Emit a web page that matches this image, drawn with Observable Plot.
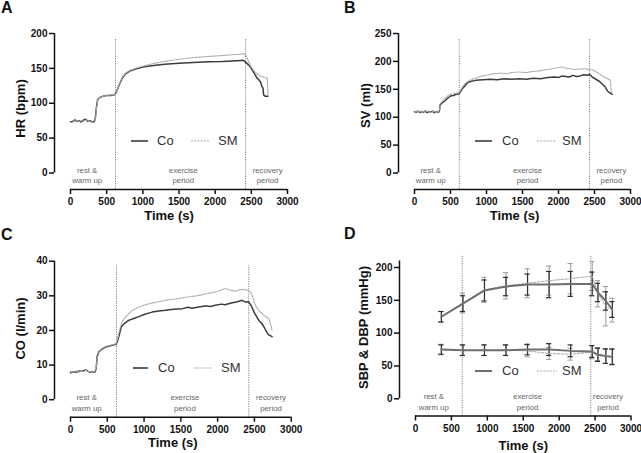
<!DOCTYPE html>
<html><head><meta charset="utf-8">
<script src="https://cdn.jsdelivr.net/npm/d3@7"></script>
<script src="https://cdn.jsdelivr.net/npm/@observablehq/plot@0.6"></script>
<style>
html,body{margin:0;padding:0;background:#fff;}
#root{position:relative;width:641px;height:453px;overflow:hidden;font-family:'Liberation Sans',Arial,Helvetica,sans-serif;}
.panel{position:absolute;}
.letter{position:absolute;font-weight:bold;font-size:16px;line-height:16px;color:#111;}
.lg{position:absolute;font-size:13px;line-height:16px;color:#333;white-space:nowrap;}
.sw{position:absolute;}
[aria-label$="axis tick"] path,[aria-label$="axis tick"] line{stroke-width:1.5px;stroke:#111;}
</style></head><body><div id="root"></div>
<script>
// ---------- data ----------
const xTicks = [0, 500, 1000, 1500, 2000, 2500, 3000];
const regionLabels = ["rest &\nwarm up", "exercise\nperiod", "recovery\nperiod"];
const seriesNames = ["Co", "SM"];

// Panel A: heart rate (bpm)
const hrCo = [[0,73],[30,74],[60,76],[90,74],[120,75],[150,73],[180,76],[210,77],[240,74],[270,75],[300,73],[330,74],[345,80],[360,96],[375,105],[400,108],[450,110],[500,111],[560,111],[610,112],[625,114],[650,120],[680,128],[720,137],[760,142],[820,146],[900,149],[1000,152],[1150,154],[1300,156],[1500,157.5],[1700,158.5],[1900,159.5],[2100,160],[2300,161],[2390,161.5],[2420,159],[2460,155],[2500,150],[2540,143],[2580,136],[2610,133],[2630,130],[2645,124],[2660,122],[2670,112],[2690,110],[2730,110]];
const hrSm = [[0,72],[30,73],[60,75],[90,75],[120,74],[150,75],[180,74],[210,76],[240,75],[270,74],[300,73],[330,72],[345,78],[360,94],[375,104],[400,108],[450,110],[500,111],[560,112],[610,112],[625,113],[650,120],[680,129],[720,138],[760,143],[820,147],[900,150],[1000,153],[1150,157],[1300,160],[1500,163],[1700,165.5],[1900,167],[2100,168.5],[2300,170],[2400,171],[2430,168],[2460,160],[2500,152],[2540,146],[2580,142],[2630,139],[2680,137],[2720,136],[2730,112]];

// Panel B: stroke volume (ml)
const svCo = [[0,110],[25,109],[50,111],[75,108],[100,110],[125,109],[150,111],[175,108],[200,110],[225,109],[250,111],[275,108],[300,110],[330,109],[345,110],[355,122],[380,125],[420,129],[460,134],[500,138],[540,139],[580,141],[620,142],[640,146],[670,152],[700,156],[740,162],[780,164],[850,166],[950,167],[1050,168],[1150,167],[1250,169],[1350,168],[1450,169],[1550,168],[1650,170],[1750,169],[1850,171],[1950,172],[2000,171],[2050,174],[2100,173],[2150,172],[2200,175],[2250,173],[2300,174],[2350,176],[2400,175],[2430,177],[2470,172],[2520,168],[2570,164],[2610,159],[2650,154],[2680,147],[2720,143],[2745,141]];
const svSm = [[0,109],[25,111],[50,110],[75,109],[100,111],[125,110],[150,109],[175,111],[200,110],[225,108],[250,110],[275,111],[300,109],[330,110],[345,111],[355,123],[380,128],[420,133],[460,138],[500,141],[540,142],[580,143],[620,144],[640,148],[670,155],[700,160],[740,164],[800,168],[870,171],[950,174],[1030,176],[1100,178],[1200,179],[1280,178],[1350,180],[1450,181],[1550,180],[1650,182],[1730,183],[1800,185],[1880,186],[1950,188],[2000,189],[2050,190],[2100,188],[2200,186],[2300,186],[2370,187],[2420,185],[2470,185],[2530,181],[2600,175],[2650,171],[2720,166],[2730,150],[2745,142]];

// Panel C: cardiac output (l/min)
const coCo = [[0,7.8],[30,8.0],[60,8.1],[90,8.0],[120,8.3],[150,8.2],[180,8.4],[210,8.6],[240,8.2],[270,7.9],[300,8.0],[330,7.9],[350,9],[362,12.5],[385,13.8],[410,14.3],[450,14.9],[480,15.2],[530,15.5],[580,15.8],[620,16],[640,17],[660,18.5],[690,21],[730,22],[790,22.9],[850,23.4],[930,24],[1000,24.6],[1110,25.3],[1200,25.6],[1290,25.8],[1400,26.1],[1520,26.3],[1600,26.7],[1650,26.4],[1745,26.8],[1850,27.1],[1900,26.9],[1970,27.3],[2050,27.6],[2100,27.4],[2200,28],[2270,28.3],[2330,28.7],[2380,28.2],[2420,28.3],[2460,27],[2495,25.3],[2530,24],[2560,22.9],[2600,22],[2630,21],[2660,19.8],[2690,18.8],[2740,18.2]];
const coSm = [[0,8.1],[30,7.9],[60,8.2],[90,8.3],[120,8.0],[150,8.3],[180,8.1],[210,8.5],[240,8.1],[270,8.2],[300,7.8],[330,8.1],[350,9.2],[362,12],[385,13.5],[410,14.5],[450,15.1],[480,15.4],[530,15.6],[580,15.9],[620,16.2],[640,17.5],[660,19.5],[700,22.5],[760,24.2],[840,25.8],[930,26.8],[1065,27.7],[1150,28.1],[1290,28.7],[1400,29],[1518,29.4],[1600,29.7],[1745,30.1],[1850,30.6],[1971,31.1],[2050,31.7],[2107,32.1],[2180,31.6],[2243,31.3],[2300,31.8],[2379,31.8],[2420,31.4],[2447,31.1],[2480,29.5],[2515,27.2],[2560,25.8],[2605,24.8],[2650,24.1],[2696,23.4],[2730,21],[2740,20]];

// Panel D: blood pressure (mmHg), mean and SD at measurement times
const bpT = [360, 660, 960, 1260, 1560, 1860, 2160, 2460, 2540, 2650, 2740];
const sbpCo = [125, 145, 165, 171, 174, 174, 175, 175, 162, 149, 136];
const sbpCoSd = [8, 12, 16, 14, 16, 20, 19, 18, 14, 14, 12];
const sbpSm = [125, 146, 166, 172, 176, 180, 183, 187, 160, 141, 135];
const sbpSmSd = [8, 15, 19, 20, 22, 22, 23, 22, 20, 30, 18];
const dbpCo = [75, 74, 74, 74, 75, 75, 73, 72, 67, 65, 64];
const dbpCoSd = [7, 8, 8, 8, 8, 9, 9, 9, 10, 11, 12];
const dbpSm = [75, 74, 74, 74, 73, 69, 68, 71, 68, 65, 64];
const dbpSmSd = [8, 8, 8, 8, 9, 9, 9, 10, 10, 11, 11];

// ---------- style ----------
const FONT = "'Liberation Sans', Arial, Helvetica, sans-serif";
const CO_COLOR = "#3c3c3c", SM_COLOR = "#a8a8a8";

const toRows = (arr) => arr.map(([t, v]) => ({t, v}));
const bpRows = (vals, sds) => bpT.map((t, i) => ({t, v: vals[i], e: sds[i]}));

const panels = [
  {letter:"A", left:0, top:0, width:320, height:225, axisX:54, x0:70, x3000:287, yTickMax:200, yTopPx:33, y0:172.5, axisY:189, frameTop:33, axisTop:200,
   yTicks:[0,50,100,150,200], periods:[622,2420], periodTop:193, regionX:[230,1560,2725], yLabel:"HR (bpm)", yTitle:[20,108], xTitleDy:26, xTitleDx:-2,
   co:toRows(hrCo), sm:toRows(hrSm), legend:{y:141, co:[131,148,157], sm:[191,209,218]}, letterPos:[1,0]},
  {letter:"B", left:320, top:0, width:321, height:225, axisX:398, x0:414, x3000:630, yTickMax:250, yTopPx:33, y0:172.5, axisY:189, frameTop:33, axisTop:250,
   yTicks:[0,50,100,150,200,250], periods:[622,2430], periodTop:241, regionX:[225,1570,2735], yLabel:"SV (ml)", yTitle:[365,105], xTitleDy:26, xTitleDx:0,
   co:toRows(svCo), sm:toRows(svSm), legend:{y:141, co:[475,492,502], sm:[537,555,562]}, letterPos:[344,0]},
  {letter:"C", left:0, top:225, width:320, height:228, axisX:54, x0:70, x3000:290.7, yTickMax:40, yTopPx:260.7, y0:399.2, axisY:416.7, frameTop:260.7, axisTop:40,
   yTicks:[0,10,20,30,40], periods:[625,2423], periodTop:38.8, regionX:[220,1555,2725], yLabel:"CO (l/min)", yTitle:[20,328], xTitleDy:26, xTitleDx:0,
   co:toRows(coCo), sm:toRows(coSm), legend:{y:367.7, co:[133,148,158], sm:[194,213,221]}, letterPos:[1,227]},
  {letter:"D", left:320, top:225, width:321, height:228, axisX:399, x0:415, x3000:630.5, yTickMax:200, yTopPx:267, y0:398.3, axisY:415.5, frameTop:255, axisTop:210,
   yTicks:[0,50,100,150,200], periods:[650,2440], periodTop:218, regionX:[255,1560,2680], yLabel:"SBP & DBP (mmHg)", yTitle:[363,327], xTitleDy:30, xTitleDx:8,
   bp:true, legend:{y:370.7, co:[475,492,502], sm:[537,557,562]}, letterPos:[344,226]}
];

const root = document.getElementById("root");

function drawPanel(p) {
  const kx = (p.x3000 - p.x0) / 3000;
  const ky = (p.y0 - p.yTopPx) / p.yTickMax;
  const xDomain = [(p.axisX - p.x0) / kx, 3000];
  const yDomain = [(p.y0 - p.axisY) / ky, (p.y0 - p.frameTop) / ky];
  const frameMidY = (p.frameTop + p.axisY) / 2;
  const marks = [];

  // period separators
  marks.push(Plot.ruleX(p.periods, {y1: yDomain[0], y2: p.periodTop, stroke: "#808080", strokeWidth: 1, strokeDasharray: "1.2,1.2"}));
  // region labels
  marks.push(Plot.text(p.regionX.map((x, i) => ({x, label: regionLabels[i]})), {
    x: "x", text: "label", frameAnchor: "bottom", lineAnchor: "middle", textAnchor: "middle", dy: -15,
    fontSize: 7.8, lineHeight: 1.38, fill: "#666", fontWeight: "normal"}));

  if (p.bp) {
    const cap = 2.6 / kx;
    const groups = [
      {rows: bpRows(sbpSm, sbpSmSd), line: SM_COLOR, bar: "#9a9a9a", dash: "2.5,1.5", lw: 1, bw: 1},
      {rows: bpRows(dbpSm, dbpSmSd), line: SM_COLOR, bar: "#9a9a9a", dash: "2.5,1.5", lw: 1, bw: 1},
      {rows: bpRows(sbpCo, sbpCoSd), line: "#6e6e6e", bar: "#2e2e2e", dash: null, lw: 2, bw: 1.2},
      {rows: bpRows(dbpCo, dbpCoSd), line: "#6e6e6e", bar: "#2e2e2e", dash: null, lw: 2, bw: 1.2}
    ];
    for (const g of groups) {
      marks.push(Plot.ruleX(g.rows, {x: "t", y1: d => d.v - d.e, y2: d => d.v + d.e, stroke: g.bar, strokeWidth: g.bw}));
      marks.push(Plot.ruleY(g.rows, {y: d => d.v + d.e, x1: d => d.t - cap, x2: d => d.t + cap, stroke: g.bar, strokeWidth: g.bw}));
      marks.push(Plot.ruleY(g.rows, {y: d => d.v - d.e, x1: d => d.t - cap, x2: d => d.t + cap, stroke: g.bar, strokeWidth: g.bw}));
    }
    for (const g of groups) {
      marks.push(Plot.line(g.rows, {x: "t", y: "v", stroke: g.line, strokeWidth: g.lw, strokeDasharray: g.dash || undefined}));
    }
  } else {
    marks.push(Plot.line(p.co, {x: "t", y: "v", stroke: CO_COLOR, strokeWidth: 1.5}));
    marks.push(Plot.line(p.sm, {x: "t", y: "v", stroke: SM_COLOR, strokeWidth: 1.1, strokeDasharray: "2,1.2"}));
  }

  // axis lines (detached, Prism style)
  marks.push(Plot.ruleX([xDomain[0]], {y1: 0, y2: p.axisTop, stroke: "#111", strokeWidth: 1.5}));
  marks.push(Plot.ruleY([yDomain[0]], {x1: 0, x2: 3000, stroke: "#111", strokeWidth: 1.5}));

  // axis titles
  marks.push(Plot.text([p.yLabel], {text: d => d, frameAnchor: "left", textAnchor: "middle", rotate: -90,
    dx: p.yTitle[0] - p.axisX, dy: p.yTitle[1] - frameMidY, fontSize: 13, fontWeight: "bold", fill: "#111"}));
  marks.push(Plot.text(["Time (s)"], {text: d => d, frameAnchor: "bottom", textAnchor: "middle", lineAnchor: "middle",
    dy: p.xTitleDy, dx: p.xTitleDx, fontSize: 13, fontWeight: "bold", fill: "#111"}));

  const svg = Plot.plot({
    width: p.width, height: p.height,
    marginLeft: p.axisX - p.left, marginRight: p.left + p.width - p.x3000,
    marginTop: p.frameTop - p.top, marginBottom: p.top + p.height - p.axisY,
    x: {domain: xDomain, ticks: xTicks, tickSize: 5, tickPadding: 3.5, tickFormat: d => String(d), label: null},
    y: {domain: yDomain, ticks: p.yTicks, tickSize: 5, tickPadding: 2, tickFormat: d => String(d), label: null},
    style: {fontFamily: FONT, fontSize: "10px", fontWeight: "bold", color: "#111", background: "transparent", overflow: "visible"},
    marks
  });
  const div = document.createElement("div");
  div.className = "panel";
  div.style.left = p.left + "px"; div.style.top = p.top + "px";
  div.style.width = p.width + "px"; div.style.height = p.height + "px";
  div.appendChild(svg);
  root.appendChild(div);

  // panel letter
  const L = document.createElement("div");
  L.className = "letter"; L.textContent = p.letter;
  L.style.left = p.letterPos[0] + "px"; L.style.top = p.letterPos[1] + "px";
  root.appendChild(L);

  // legend
  const lg = p.legend;
  const entries = [
    {name: seriesNames[0], pos: lg.co, color: p.bp ? "#6e6e6e" : CO_COLOR, w: p.bp ? 2 : 1.6, dash: null},
    {name: seriesNames[1], pos: lg.sm, color: SM_COLOR, w: 1.1, dash: "2,1.2"}
  ];
  for (const e of entries) {
    const ns = "http://www.w3.org/2000/svg";
    const s = document.createElementNS(ns, "svg");
    s.setAttribute("class", "sw");
    const len = e.pos[1] - e.pos[0];
    s.setAttribute("width", len); s.setAttribute("height", 4);
    s.style.left = e.pos[0] + "px"; s.style.top = (lg.y - 2) + "px";
    const ln = document.createElementNS(ns, "line");
    ln.setAttribute("x1", 0); ln.setAttribute("x2", len); ln.setAttribute("y1", 2); ln.setAttribute("y2", 2);
    ln.setAttribute("stroke", e.color); ln.setAttribute("stroke-width", e.w);
    if (e.dash) ln.setAttribute("stroke-dasharray", e.dash);
    s.appendChild(ln);
    root.appendChild(s);
    const t = document.createElement("div");
    t.className = "lg"; t.textContent = e.name;
    t.style.left = e.pos[2] + "px"; t.style.top = (lg.y - 8) + "px";
    root.appendChild(t);
  }
}

panels.forEach(drawPanel);
</script></body></html>
